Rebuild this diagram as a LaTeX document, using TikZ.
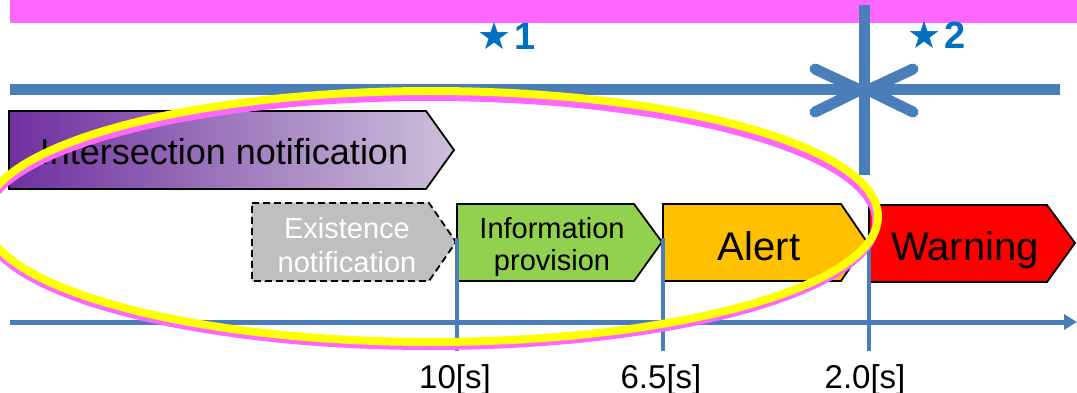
\documentclass[tikz,border=0pt]{standalone}
\usepackage{fontspec}
\setmainfont{Liberation Sans}
\newfontfamily\symfont{DejaVu Sans}
\usetikzlibrary{arrows.meta}
\definecolor{linkblue}{HTML}{4A7EBB}
\definecolor{starblue}{HTML}{0070C0}
\definecolor{bannermag}{HTML}{FF66FF}
\definecolor{purpleL}{HTML}{7030A0}
\definecolor{purpleR}{HTML}{CCC1DA}
\definecolor{greyfill}{HTML}{BFBFBF}
\definecolor{greenfill}{HTML}{92D050}
\definecolor{alertfill}{HTML}{FFC000}
\definecolor{warnfill}{HTML}{FF0000}
\definecolor{ringyellow}{HTML}{FFFF00}
\definecolor{ringmag}{HTML}{FF66FF}
\tikzset{
  chevron/.style={draw=black, line width=1.8pt, line join=miter},
  bigtxt/.style={anchor=base, inner sep=0pt, font=\fontsize{36}{40}\selectfont},
  midtxt/.style={anchor=base, inner sep=0pt, font=\fontsize{29}{32}\selectfont, align=center},
  alerttxt/.style={anchor=base, inner sep=0pt, font=\fontsize{40}{44}\selectfont},
  timetxt/.style={anchor=base, inner sep=0pt, font=\fontsize{33}{36}\selectfont},
  startxt/.style={inner sep=0pt, text=starblue, font=\fontsize{38}{40}\selectfont\bfseries},
  thickblue/.style={draw=linkblue, line width=11pt},
  vee/.style={draw=linkblue, line width=11pt, line cap=round, line join=round},
  tick/.style={draw=linkblue, line width=4.5pt},
  axis/.style={draw=linkblue, line width=5pt, -{Triangle[length=13pt,width=15pt]}},
}
\begin{document}
\begin{tikzpicture}[x=1pt,y=-1pt]
\useasboundingbox (0,0) rectangle (1077,393);
% banner
\fill[bannermag] (10,0) rectangle (1077,23);
% coordinates
\coordinate (hl) at (10,90);
\coordinate (hr) at (1060,90);
\coordinate (vt) at (864,5);
\coordinate (vb) at (864,175);
\coordinate (lvtip) at (860,90);
\coordinate (rvtip) at (868,90);
\coordinate (ax0) at (10,322);
\coordinate (ax1) at (1077,322);
% thick lines and converging arrowheads
\draw[thickblue] (hl) -- (hr);
\draw[thickblue] (vt) -- (vb);
\draw[vee] (815,69) -- (lvtip) -- (815,112);
\draw[vee] (913,69) -- (rvtip) -- (913,112);
\node[startxt] (star1) at (507,36) {{\symfont ★}\hspace{3pt}1};
\node[startxt] (star2) at (937,35) {{\symfont ★}\hspace{3pt}2};
% chevrons
\path[chevron, left color=purpleL, right color=purpleR]
  (9,111) -- (426,111) -- (454,150) -- (426,189) -- (9,189) -- cycle;
\path[chevron, fill=greyfill, dashed, dash pattern=on 7pt off 4pt]
  (252,203) -- (429,203) -- (456,242) -- (429,281) -- (252,281) -- cycle;
\path[chevron, fill=greenfill]
  (457,204) -- (634,204) -- (662,242) -- (634,281) -- (457,281) -- cycle;
\path[chevron, fill=alertfill]
  (663,204) -- (841,204) -- (867,242) -- (841,281) -- (663,281) -- cycle;
\path[chevron, fill=warnfill]
  (869,205) -- (1047,205) -- (1075,243) -- (1047,282) -- (869,282) -- cycle;
\node[bigtxt] (inter) at (224,165) {Intersection notification};
\node[midtxt, text=white] (exist1) at (347,238) {Existence};
\node[midtxt, text=white] (exist2) at (347,272) {notification};
\node[midtxt] (info1) at (552,238) {Information};
\node[midtxt] (info2) at (552,270) {provision};
\node[alerttxt] (alert) at (759,260) {Alert};
\node[alerttxt] (warn) at (965,260) {Warning};
% time axis and ticks
\coordinate (t1top) at (457,238);
\coordinate (t1bot) at (457,351);
\coordinate (t2top) at (663,238);
\coordinate (t2bot) at (663,351);
\coordinate (t3top) at (869,238);
\coordinate (t3bot) at (869,351);
\draw[axis] (ax0) -- (ax1);
\draw[tick] (t1top) -- (t1bot);
\draw[tick] (t2top) -- (t2bot);
\draw[tick] (t3top) -- (t3bot);
\node[timetxt] (l1) at (455,388) {10[s]};
\node[timetxt] (l2) at (661,388) {6.5[s]};
\node[timetxt] (l3) at (865,388) {2.0[s]};
% highlight ring
\draw[ringmag, line width=8pt] (430,221.5) ellipse [x radius=446, y radius=124.5];
\draw[ringyellow, line width=8pt] (431,216.5) ellipse [x radius=447, y radius=125.5];
\end{tikzpicture}
\end{document}
